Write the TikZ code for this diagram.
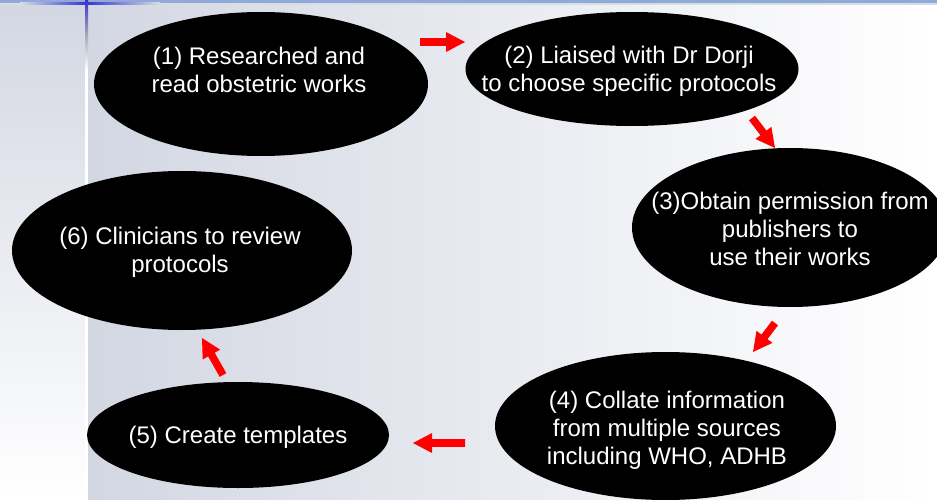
\documentclass[tikz,border=0pt]{standalone}
\usepackage{fontspec}
\setmainfont{Liberation Sans}
\usetikzlibrary{shapes.geometric}
\definecolor{barblue}{HTML}{8DAAD9}
\definecolor{stripgrey}{HTML}{D9DCE5}
\definecolor{vblue}{HTML}{3535CC}
\definecolor{vgrey}{HTML}{A8A8BC}
\definecolor{bgleft}{HTML}{D3D7E2}
\definecolor{arrowred}{HTML}{FF0000}
\tikzset{
  stepoval/.style={ellipse, fill=black, draw=none, inner sep=0pt, outer sep=0pt},
  steptext/.style={text=white, align=center, inner sep=0pt, font=\fontsize{24}{28}\selectfont},
  pics/blockarrow/.style={code={
    \fill[arrowred] (0,-3.8) -- ({#1-19},-3.8) -- ({#1-19},-10) -- (#1,0)
      -- ({#1-19},10) -- ({#1-19},3.8) -- (0,3.8) -- cycle;}}
}
\begin{document}
\begin{tikzpicture}[x=1pt,y=-1pt]
\useasboundingbox (0,0) rectangle (937,500);
\clip (0,0) rectangle (937,500);
% background
\fill[white] (0,0) rectangle (937,500);
\shade[top color=bgleft, bottom color=white] (0,5) rectangle (85,500);
\shade[left color=bgleft, right color=white] (88,5) rectangle (937,500);
% top bar
\fill[barblue] (0,0) rectangle (937,3);
\fill[stripgrey] (0,3) rectangle (937,5.3);
\shade[left color=stripgrey, right color=vblue] (20,3) rectangle (86.5,4.6);
\shade[left color=vblue, right color=stripgrey] (86.5,3) rectangle (160,4.6);
% vertical line
\shade[top color=vblue, bottom color=white, middle color=vgrey] (85,0) rectangle (88,70);
\fill[white] (85,70) rectangle (88,500);

% ellipses
\node[stepoval, minimum width=334pt, minimum height=144pt] (e1) at (261,84) {};
\node[stepoval, minimum width=333pt, minimum height=114pt] (e2) at (632,69) {};
\node[stepoval, minimum width=316pt, minimum height=159pt] (e3) at (790,227.5) {};
\node[stepoval, minimum width=341pt, minimum height=148pt] (e4) at (665.5,426) {};
\node[stepoval, minimum width=302pt, minimum height=106pt] (e5) at (238,435) {};
\node[stepoval, minimum width=340pt, minimum height=159pt] (e6) at (182,250.5) {};

% texts
\node[steptext] (t1) at (259,70) {(1) Researched and\\read obstetric works};
\node[steptext] (t2) at (629,71) {(2) Liaised with Dr Dorji\\to choose specific protocols};
\node[steptext] (t3) at (790,229) {(3)Obtain permission from\\publishers to\\use their works};
\node[steptext] (t4) at (667,430) {(4) Collate information\\from multiple sources\\including WHO, ADHB};
\node[steptext] (t5) at (238,437) {(5) Create templates};
\node[steptext] (t6) at (180,252) {(6) Clinicians to review\\protocols};

% arrows
\coordinate (a1) at (420,42);
\coordinate (a2) at (752,118);
\coordinate (a3) at (775,323);
\coordinate (a4) at (465,443);
\coordinate (a5) at (223,375);
\pic at (a1) {blockarrow=45};
\pic[rotate=-52.5] at (a2) {blockarrow=37.8};
\pic[rotate=-127.2] at (a3) {blockarrow=36.4};
\pic[rotate=180] at (a4) {blockarrow=52};
\pic[rotate=119.6] at (a5) {blockarrow=42.5};
\end{tikzpicture}
\end{document}
